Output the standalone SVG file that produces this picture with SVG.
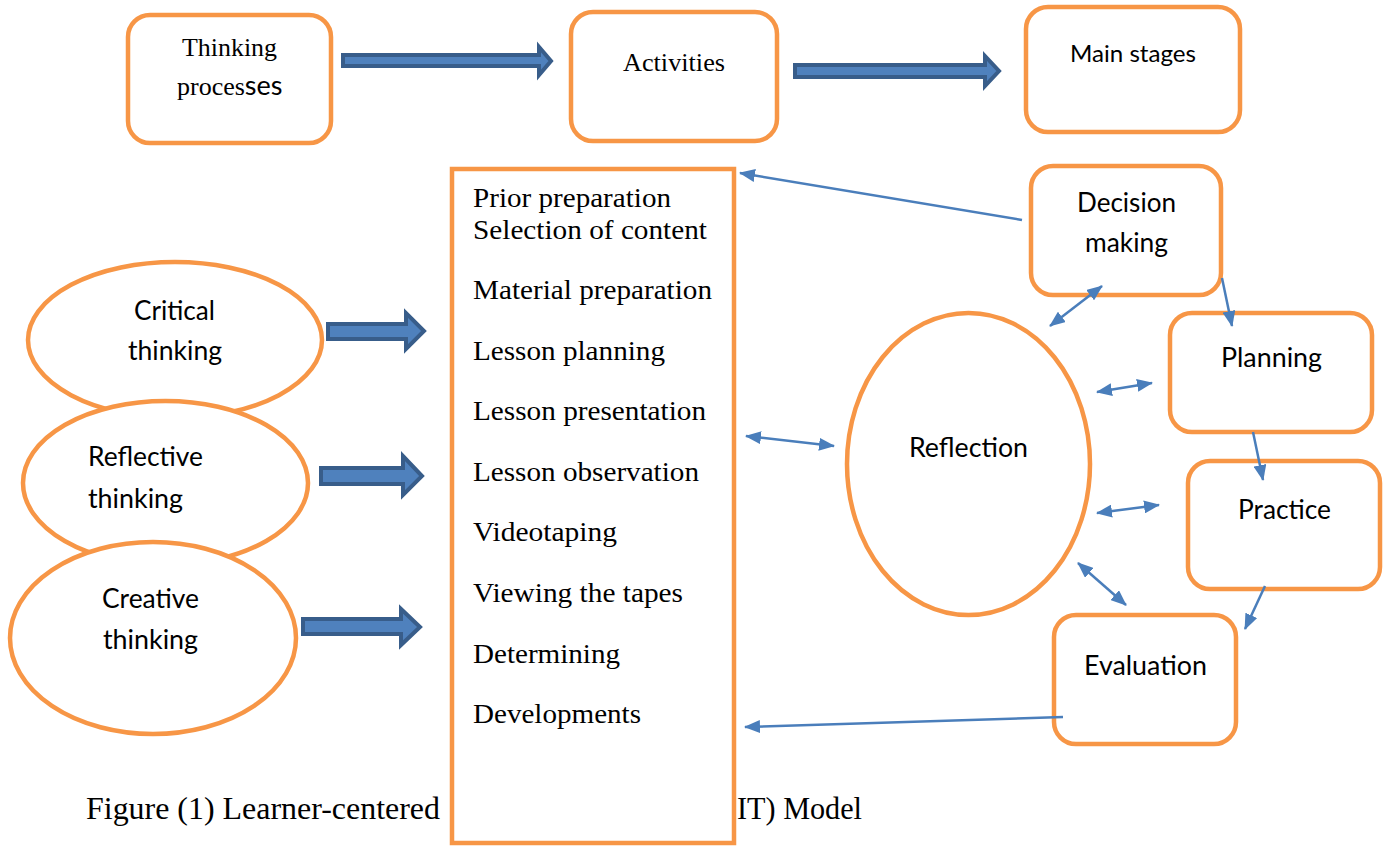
<svg xmlns="http://www.w3.org/2000/svg" width="1388" height="846" viewBox="0 0 1388 846">
<style>
.box{fill:#fff;stroke:#f79646;stroke-width:4.5}
.blk{fill:#4f81bd;stroke:#385d8a;stroke-width:4;stroke-linejoin:miter}
.con{stroke:#4a7ebb;stroke-width:2.5;fill:none}
.serif{font-family:"Liberation Serif","Times New Roman",serif;font-size:28px;fill:#000}
.sans{font-family:Lato,"Liberation Sans",sans-serif;font-size:27px;fill:#000}
</style>
<defs>
<marker id="ah" markerUnits="userSpaceOnUse" markerWidth="16" markerHeight="13" refX="15" refY="6.5" orient="auto-start-reverse" viewBox="0 0 16 13">
<path d="M0,0 L16,6.5 L0,13 Z" fill="#4a7ebb"/>
</marker>
</defs>
<rect width="1388" height="846" fill="#fff"/>

<!-- caption (partly hidden behind list rectangle) -->
<g id="caption">
<text class="serif" style="font-size:32px" x="86" y="819" textLength="354" lengthAdjust="spacingAndGlyphs">Figure (1) Learner-centered</text>
<text class="serif" style="font-size:32px" x="737" y="819" textLength="125" lengthAdjust="spacingAndGlyphs">IT) Model</text>
</g>

<g id="thinking-processes">
<rect class="box" x="128" y="15" width="203" height="128" rx="22"/>
<text class="serif" style="font-size:25px" x="182" y="56" textLength="95" lengthAdjust="spacingAndGlyphs">Thinking</text>
<text class="serif" style="font-size:26px" x="177" y="95">proces<tspan class="sans" style="font-size:27px">ses</tspan></text>
</g>

<g id="activities">
<rect class="box" x="571" y="12" width="206" height="129" rx="22"/>
<text class="serif" style="font-size:25px" x="623" y="71" textLength="102" lengthAdjust="spacingAndGlyphs">Activities</text>
</g>

<g id="main-stages">
<rect class="box" x="1026" y="7" width="214" height="125" rx="22"/>
<text class="sans" style="font-size:24px" x="1070" y="62" textLength="126" lengthAdjust="spacingAndGlyphs">Main stages</text>
</g>

<g id="critical-thinking">
<ellipse class="box" cx="175" cy="340" rx="147" ry="78"/>
<text class="sans" x="134" y="320" textLength="81" lengthAdjust="spacingAndGlyphs">Critical</text>
<text class="sans" x="128" y="360" textLength="94" lengthAdjust="spacingAndGlyphs">thinking</text>
</g>

<g id="reflective-thinking">
<ellipse class="box" cx="165.5" cy="483" rx="142.5" ry="82"/>
<text class="sans" x="88" y="466" textLength="115" lengthAdjust="spacingAndGlyphs">Reflective</text>
<text class="sans" x="88" y="508" textLength="95" lengthAdjust="spacingAndGlyphs">thinking</text>
</g>

<g id="creative-thinking">
<ellipse class="box" cx="153" cy="638" rx="143" ry="96"/>
<text class="sans" x="102" y="608" textLength="97" lengthAdjust="spacingAndGlyphs">Creative</text>
<text class="sans" x="103" y="649" textLength="95" lengthAdjust="spacingAndGlyphs">thinking</text>
</g>

<g id="activities-list">
<rect class="box" x="452" y="169" width="282" height="674"/>
<text class="serif" x="473" y="207" textLength="198" lengthAdjust="spacingAndGlyphs">Prior preparation</text>
<text class="serif" x="473" y="239" textLength="234" lengthAdjust="spacingAndGlyphs">Selection of content</text>
<text class="serif" x="473" y="299" textLength="239" lengthAdjust="spacingAndGlyphs">Material preparation</text>
<text class="serif" x="473" y="360" textLength="192" lengthAdjust="spacingAndGlyphs">Lesson planning</text>
<text class="serif" x="473" y="420" textLength="233" lengthAdjust="spacingAndGlyphs">Lesson presentation</text>
<text class="serif" x="473" y="481" textLength="226" lengthAdjust="spacingAndGlyphs">Lesson observation</text>
<text class="serif" x="473" y="541" textLength="144" lengthAdjust="spacingAndGlyphs">Videotaping</text>
<text class="serif" x="473" y="602" textLength="210" lengthAdjust="spacingAndGlyphs">Viewing the tapes</text>
<text class="serif" x="473" y="663" textLength="147" lengthAdjust="spacingAndGlyphs">Determining</text>
<text class="serif" x="473" y="723" textLength="168" lengthAdjust="spacingAndGlyphs">Developments</text>
</g>

<g id="decision-making">
<rect class="box" x="1031" y="166" width="190" height="129" rx="22"/>
<text class="sans" x="1077" y="212" textLength="99" lengthAdjust="spacingAndGlyphs">Decision</text>
<text class="sans" x="1085" y="252" textLength="83" lengthAdjust="spacingAndGlyphs">making</text>
</g>

<g id="planning">
<rect class="box" x="1170" y="313" width="202" height="119" rx="22"/>
<text class="sans" x="1221" y="367" textLength="101" lengthAdjust="spacingAndGlyphs">Planning</text>
</g>

<g id="practice">
<rect class="box" x="1188" y="461" width="192" height="128" rx="22"/>
<text class="sans" x="1238" y="519" textLength="93" lengthAdjust="spacingAndGlyphs">Practice</text>
</g>

<g id="evaluation">
<rect class="box" x="1054" y="615" width="182" height="129" rx="22"/>
<text class="sans" x="1084" y="675" textLength="123" lengthAdjust="spacingAndGlyphs">Evaluation</text>
</g>

<g id="reflection">
<ellipse class="box" cx="968.5" cy="464" rx="121.5" ry="151"/>
<text class="sans" x="909" y="457" textLength="119" lengthAdjust="spacingAndGlyphs">Reflection</text>
</g>

<g id="connectors">
<!-- block arrows -->
<path class="blk" d="M343,55 L539,55 L539,47 L551,61 L539,75 L539,66 L343,66 Z"/>
<path class="blk" d="M795,65 L985,65 L985,56 L999,71 L985,86 L985,77 L795,77 Z"/>
<path class="blk" d="M328,324 L406,324 L406,313 L424,331 L406,349 L406,339 L328,339 Z"/>
<path class="blk" d="M321,468 L403,468 L403,456 L422,476 L403,495 L403,484 L321,484 Z"/>
<path class="blk" d="M303,619 L401,619 L401,609 L420,627 L401,645 L401,634 L303,634 Z"/>
<!-- thin connectors -->
<line class="con" x1="1022" y1="220" x2="740" y2="173" marker-end="url(#ah)"/>
<line class="con" x1="1050" y1="326" x2="1102" y2="286" marker-start="url(#ah)" marker-end="url(#ah)"/>
<line class="con" x1="1222" y1="278" x2="1232" y2="326" marker-end="url(#ah)"/>
<line class="con" x1="1097" y1="392" x2="1152" y2="383" marker-start="url(#ah)" marker-end="url(#ah)"/>
<line class="con" x1="1253" y1="432" x2="1263" y2="480" marker-end="url(#ah)"/>
<line class="con" x1="1097" y1="513" x2="1159" y2="505" marker-start="url(#ah)" marker-end="url(#ah)"/>
<line class="con" x1="1078" y1="563" x2="1126" y2="605" marker-start="url(#ah)" marker-end="url(#ah)"/>
<line class="con" x1="1265" y1="586" x2="1245" y2="629" marker-end="url(#ah)"/>
<line class="con" x1="1063" y1="717" x2="745" y2="727" marker-end="url(#ah)"/>
<line class="con" x1="746" y1="436" x2="834" y2="446" marker-start="url(#ah)" marker-end="url(#ah)"/>
</g>
</svg>
